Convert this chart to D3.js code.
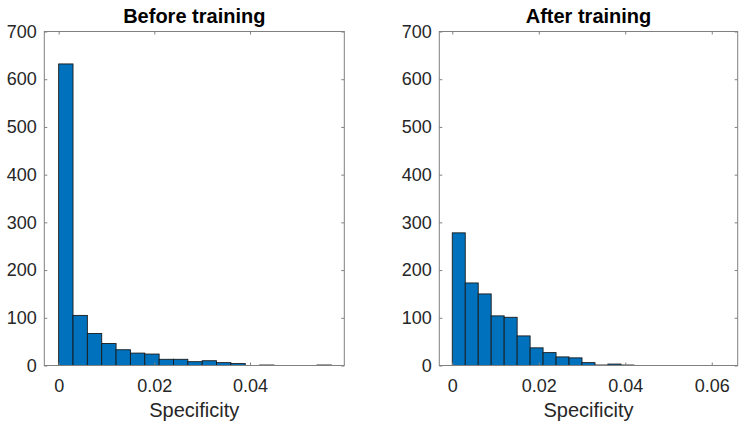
<!DOCTYPE html>
<html>
<head>
<meta charset="utf-8">
<script src="https://cdn.jsdelivr.net/npm/d3@7"></script>
<style>
  html, body { margin: 0; padding: 0; background: #fff; }
  svg { display: block; }
  text { font-family: "Liberation Sans", Arial, Helvetica, sans-serif; }
</style>
</head>
<body>
<svg id="chart" width="745" height="430"></svg>
<script>
// ---- data ----
const binWidth = 0.003;
const beforeCounts = [632, 105, 67, 46, 33, 26, 24, 13, 13, 8, 10, 6, 4, 0, 1, 0, 0, 0, 1];
const afterCounts = [278, 173, 150, 104, 101, 62, 37, 27, 18, 16, 6, 1, 3, 1];
const beforeXTicks = [0, 0.02, 0.04];
const afterXTicks = [0, 0.02, 0.04, 0.06];
const yTicks = [0, 100, 200, 300, 400, 500, 600, 700];
const titles = ["Before training", "After training"];
const xLabel = "Specificity";

const panels = [
  { title: titles[0], counts: beforeCounts, xTicks: beforeXTicks, xDomain: [-0.003, 0.0597], left: 44.3, right: 344.3 },
  { title: titles[1], counts: afterCounts, xTicks: afterXTicks, xDomain: [-0.003, 0.066], left: 439.3, right: 737.7 }
];

const plotTop = 31.5, plotBottom = 365.5;
const svg = d3.select("#chart");
const textColor = "#262626";
const frameColor = "#808080";
const fmt = d => d === 0 ? "0" : d3.format(".2f")(d);

panels.forEach(p => {
  const x = d3.scaleLinear().domain(p.xDomain).range([p.left, p.right]);
  const y = d3.scaleLinear().domain([0, 700]).range([plotBottom, plotTop]);
  const g = svg.append("g");

  const bins = p.counts.map((c, i) => ({ x0: i * binWidth, x1: (i + 1) * binWidth, c }));
  g.selectAll("rect.bar").data(bins.filter(d => d.c > 0)).enter().append("rect")
    .attr("class", "bar")
    .attr("x", d => x(d.x0))
    .attr("width", d => x(d.x1) - x(d.x0))
    .attr("y", d => y(d.c))
    .attr("height", d => y(0) - y(d.c))
    .attr("fill", "#0072BD")
    .attr("stroke", "#1a1a1a")
    .attr("stroke-width", 0.9);

  const styleAxis = (sel, showLabels) => {
    sel.select(".domain").remove();
    sel.selectAll(".tick line").attr("stroke", frameColor);
    sel.selectAll(".tick text").attr("fill", textColor).style("font-size", "18px");
    if (!showLabels) sel.selectAll(".tick text").remove();
  };

  g.append("g").attr("transform", `translate(0,${plotBottom})`)
    .call(d3.axisBottom(x).tickValues(p.xTicks).tickFormat(fmt).tickSize(-3).tickPadding(14))
    .call(s => styleAxis(s, true));
  g.append("g").attr("transform", `translate(0,${plotTop})`)
    .call(d3.axisTop(x).tickValues(p.xTicks).tickSize(-3))
    .call(s => styleAxis(s, false));
  g.append("g").attr("transform", `translate(${p.left},0)`)
    .call(d3.axisLeft(y).tickValues(yTicks).tickSize(-3).tickPadding(7.5))
    .call(s => styleAxis(s, true));
  g.append("g").attr("transform", `translate(${p.right},0)`)
    .call(d3.axisRight(y).tickValues(yTicks).tickSize(-3))
    .call(s => styleAxis(s, false));

  g.append("rect")
    .attr("x", p.left).attr("y", plotTop)
    .attr("width", p.right - p.left).attr("height", plotBottom - plotTop)
    .attr("fill", "none").attr("stroke", frameColor).attr("stroke-width", 1);

  const cx = (p.left + p.right) / 2;
  g.append("text").attr("x", cx).attr("y", 22.5)
    .attr("text-anchor", "middle").attr("font-weight", "bold")
    .style("font-size", "20px").attr("fill", "#000").text(p.title);
  g.append("text").attr("x", cx).attr("y", 417)
    .attr("text-anchor", "middle")
    .style("font-size", "20px").attr("fill", textColor).text(xLabel);
});
</script>
</body>
</html>
